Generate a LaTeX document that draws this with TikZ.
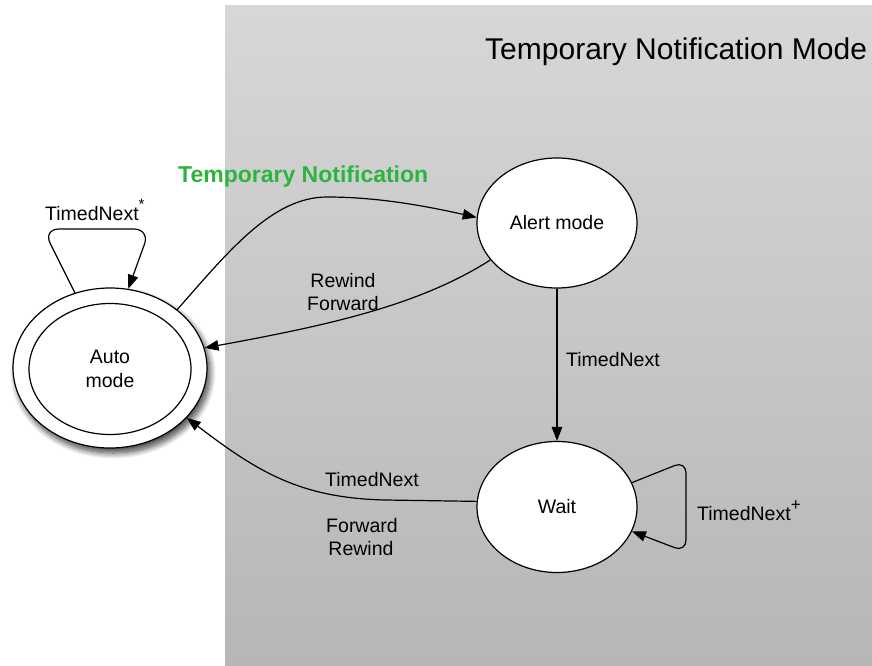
\documentclass[tikz,border=0pt]{standalone}
\usepackage{fontspec}
\setmainfont{Liberation Sans}
\usetikzlibrary{arrows.meta,shadows.blur,shapes.geometric}
\definecolor{bgtop}{RGB}{215,215,215}
\definecolor{bgbot}{RGB}{182,182,182}
\definecolor{tngreen}{RGB}{44,181,62}
\begin{document}
\begin{tikzpicture}[x=1pt,y=-1pt,
  state/.style={ellipse,draw,line width=1.2pt,fill=white,inner sep=0pt,
    font=\fontsize{19.5}{24}\selectfont,align=center},
  lbl/.style={font=\fontsize{19.5}{23}\selectfont,anchor=base,inner sep=0pt},
  arr/.style={line width=1.2pt,-{Triangle[length=14pt,width=10.5pt]}}
]
\useasboundingbox (0,0) rectangle (872,666);
\shade[top color=bgtop,bottom color=bgbot] (225,6) rectangle (872,666);

% states
\node[state,minimum width=194pt,minimum height=160pt,
  blur shadow={shadow xshift=3pt,shadow yshift=-5pt,shadow blur steps=12,
    shadow blur radius=6pt,shadow opacity=75}]
  (auto) at (110,368) {};
\node[state,minimum width=162pt,minimum height=131pt] (autoin) at (110,369) {Auto\\mode};
\node[state,minimum width=160pt,minimum height=130pt] (alert) at (557,223) {Alert mode};
\node[state,minimum width=160pt,minimum height=131pt] (wait) at (557,507) {Wait};

% title
\node[anchor=base west,inner sep=0pt,font=\fontsize{30}{34}\selectfont] (title) at (485,60)
  {Temporary Notification Mode};

% connectors
\draw[arr] (auto.41) .. controls (228,252) and (272,197) .. (327,197)
  .. controls (380,197) and (430,207) .. (alert.176);
\draw[arr] (alert.209) .. controls (420,305) and (330,325) .. (auto.12);
\draw[arr] (alert.south) -- (wait.north);
\draw[arr] (wait.176) -- (385,500) .. controls (300,498) and (258,472) .. (auto.-33);
\draw[arr,rounded corners=16pt] (auto.115) -- (43,229) -- (150,229) -- (auto.77);
\draw[arr,rounded corners=12pt] (wait.18) -- (686,461) -- (686,552) -- (wait.-18);

% labels
\node[anchor=base west,inner sep=0pt,font=\fontsize{23}{26}\selectfont\bfseries,text=tngreen]
  (tnlabel) at (178,182) {Temporary Notification};
\node[lbl,anchor=base west] (autoloop) at (45,220)
  {TimedNext\raisebox{11pt}{\fontsize{15}{15}\selectfont *}};
\node[lbl] (rf1) at (343,287) {Rewind};
\node[lbl] (rf2) at (343,310) {Forward};
\node[lbl,anchor=base west] (atow) at (566,366) {TimedNext};
\node[lbl,anchor=base west] (waitloop) at (697,520)
  {TimedNext\raisebox{10pt}{\fontsize{17}{17}\selectfont +}};
\node[lbl,anchor=base west] (wta1) at (325,486) {TimedNext};
\node[lbl] (wta2) at (362,532) {Forward};
\node[lbl] (wta3) at (361,555) {Rewind};
\end{tikzpicture}
\end{document}
